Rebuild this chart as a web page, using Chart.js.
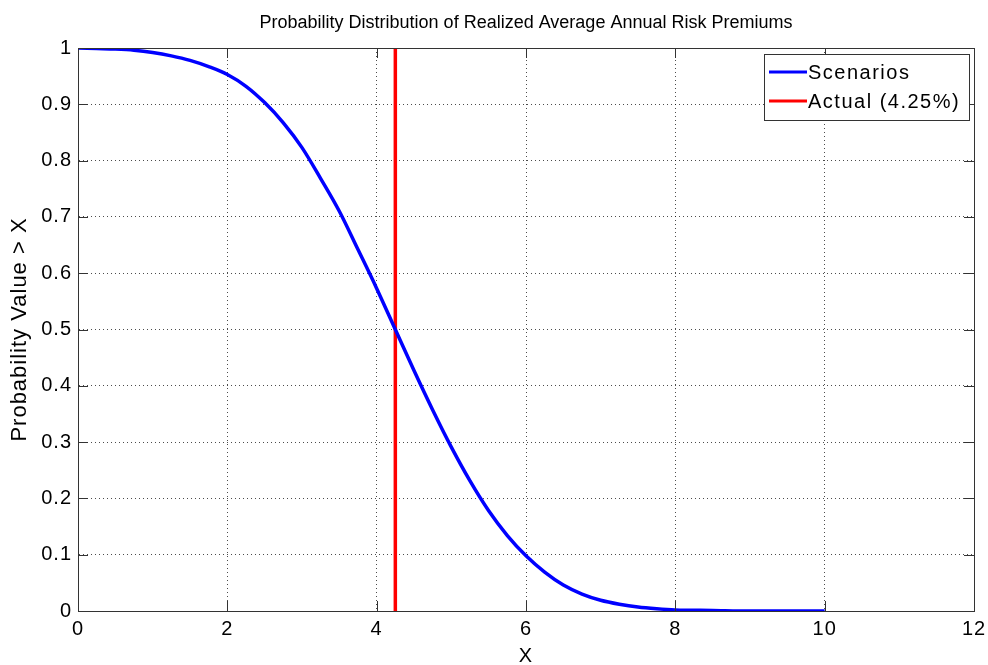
<!DOCTYPE html>
<html>
<head>
<meta charset="utf-8">
<script src="https://cdn.jsdelivr.net/npm/chart.js@4"></script>
<style>
  html, body { margin: 0; padding: 0; background: #fff; }
  #wrap { width: 988px; height: 665px; }
</style>
</head>
<body>
<div id="wrap"><canvas id="chart" width="988" height="665"></canvas></div>
<script>
const chartTitle = "Probability Distribution of Realized Average Annual Risk Premiums";

// x values (risk premium, %) and probability that the realized value > x
const scenarioX = [0, 0.25, 0.5, 0.75, 1, 1.25, 1.5, 1.75, 2, 2.25, 2.5, 2.75, 3, 3.25, 3.5, 3.75,
  4, 4.25, 4.5, 4.75, 5, 5.25, 5.5, 5.75, 6, 6.25, 6.5, 6.75, 7, 7.25, 7.5, 7.75, 8, 8.5, 9, 9.5, 10];
const scenarioP = [1, 0.999, 0.998, 0.996, 0.992, 0.986, 0.978, 0.967, 0.953, 0.932, 0.903, 0.867, 0.823, 0.768, 0.71, 0.642,
  0.573, 0.5, 0.427, 0.357, 0.291, 0.231, 0.178, 0.134, 0.098, 0.069, 0.046, 0.03, 0.019, 0.012, 0.007, 0.004, 0.002, 0.001, 0, 0, 0];

const actualX = [4.25, 4.25];
const actualP = [0, 1];

const seriesLabels = ["Scenarios", "Actual (4.25%)"];
const xTicks = [0, 2, 4, 6, 8, 10, 12];
const yTicks = [0, 0.1, 0.2, 0.3, 0.4, 0.5, 0.6, 0.7, 0.8, 0.9, 1];

const FONT = "'Liberation Sans', Arial, Helvetica, sans-serif";
Chart.defaults.font.family = FONT;
Chart.defaults.color = "#000";

function toPoints(xs, ys) {
  return xs.map((x, i) => ({ x: x, y: ys[i] }));
}

// box, inward ticks, title and legend in the MATLAB look
const matlabFrame = {
  id: "matlabFrame",
  beforeDraw(chart) {
    chart.ctx.letterSpacing = "1px";
  },
  afterDatasetsDraw(chart) {
    const { ctx, chartArea: a, scales } = chart;
    const tick = 10;
    ctx.save();
    ctx.strokeStyle = "#333";
    ctx.lineWidth = 1;
    ctx.setLineDash([]);
    ctx.beginPath();
    xTicks.forEach((v) => {
      const px = Math.round(scales.x.getPixelForValue(v)) + 0.5;
      ctx.moveTo(px, a.bottom);
      ctx.lineTo(px, a.bottom - tick);
      ctx.moveTo(px, a.top);
      ctx.lineTo(px, a.top + tick);
    });
    yTicks.forEach((v) => {
      const py = Math.round(scales.y.getPixelForValue(v)) + 0.5;
      ctx.moveTo(a.left, py);
      ctx.lineTo(a.left + tick, py);
      ctx.moveTo(a.right, py);
      ctx.lineTo(a.right - tick, py);
    });
    ctx.stroke();
    ctx.strokeRect(Math.round(a.left) + 0.5, Math.round(a.top) + 0.5,
      Math.round(a.right - a.left), Math.round(a.bottom - a.top));

    // title
    ctx.fillStyle = "#000";
    ctx.letterSpacing = "0px";
    ctx.font = "18px " + FONT;
    ctx.textAlign = "center";
    ctx.textBaseline = "middle";
    ctx.fillText(chartTitle, (a.left + a.right) / 2, 23);

    // legend
    const lx = 764, ly = 54, lw = 205, lh = 66;
    ctx.fillStyle = "#fff";
    ctx.fillRect(lx, ly, lw, lh);
    ctx.strokeStyle = "#333";
    ctx.strokeRect(lx + 0.5, ly + 0.5, lw, lh);
    ctx.font = "20px " + FONT;
    ctx.letterSpacing = "1.5px";
    ctx.textAlign = "left";
    chart.data.datasets.forEach((ds, i) => {
      const y = ly + 18 + i * 29;
      ctx.strokeStyle = ds.borderColor;
      ctx.lineWidth = 3;
      ctx.beginPath();
      ctx.moveTo(lx + 5, y);
      ctx.lineTo(lx + 43, y);
      ctx.stroke();
      ctx.fillStyle = "#000";
      ctx.fillText(ds.label, lx + 44, y + 1);
    });
    ctx.restore();
  }
};

new Chart(document.getElementById("chart"), {
  type: "line",
  data: {
    datasets: [
      {
        label: seriesLabels[0],
        data: toPoints(scenarioX, scenarioP),
        borderColor: "#0000ff",
        borderWidth: 3.5,
        pointRadius: 0,
        cubicInterpolationMode: "monotone",
        fill: false,
      },
      {
        label: seriesLabels[1],
        data: toPoints(actualX, actualP),
        borderColor: "#ff0000",
        borderWidth: 3.5,
        pointRadius: 0,
        fill: false,
      },
    ],
  },
  options: {
    responsive: false,
    animation: false,
    layout: { padding: { left: 0, right: 14, top: 48, bottom: 0 } },
    plugins: {
      legend: { display: false },
      title: { display: false },
      tooltip: { enabled: false },
    },
    scales: {
      x: {
        type: "linear",
        min: 0,
        max: 12,
        afterFit: (s) => {
          s.height = 54;
          s.paddingLeft = 0;
          s.paddingRight = 0;
        },
        afterBuildTicks: (s) => { s.ticks = xTicks.map((v) => ({ value: v })); },
        grid: { color: "rgba(0,0,0,0.7)", drawTicks: false },
        border: { color: "#333", dash: [1, 3] },
        ticks: { font: { size: 20 }, padding: 6, maxRotation: 0 },
        title: { display: true, text: "X", font: { size: 20 }, padding: { top: 0, bottom: -3 } },
      },
      y: {
        min: 0,
        max: 1,
        afterFit: (s) => {
          s.width = 78;
          s.paddingTop = 0;
          s.paddingBottom = 0;
        },
        afterBuildTicks: (s) => { s.ticks = yTicks.map((v) => ({ value: v })); },
        grid: { color: "rgba(0,0,0,0.7)", drawTicks: false },
        border: { color: "#333", dash: [1, 3] },
        ticks: {
          font: { size: 20 },
          padding: 6,
          callback: (v) => String(Math.round(v * 10) / 10),
        },
        title: { display: true, text: "Probability Value > X", font: { size: 22 }, padding: { top: 7, bottom: 0 } },
      },
    },
  },
  plugins: [matlabFrame],
});
</script>
</body>
</html>
